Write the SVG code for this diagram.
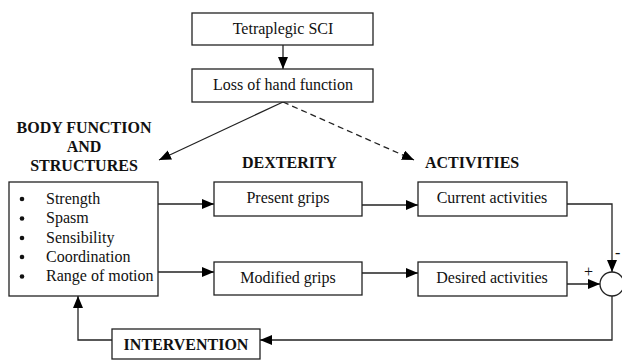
<svg xmlns="http://www.w3.org/2000/svg" width="622" height="360" viewBox="0 0 622 360">
<style>
.box{fill:#fff;stroke:#222;stroke-width:1.3}
.t{font-family:'Liberation Serif','Times New Roman',Times,'DejaVu Serif',serif;font-size:16px;fill:#111}
.b{font-family:'Liberation Serif','Times New Roman',Times,'DejaVu Serif',serif;font-size:16px;font-weight:bold;fill:#111}
.c{text-anchor:middle}
.ln{fill:none;stroke:#222;stroke-width:1.3}
</style>
<defs>
<marker id="ah" viewBox="0 0 12 10" refX="12" refY="5" markerWidth="12" markerHeight="10" markerUnits="userSpaceOnUse" orient="auto">
<path d="M0,0 L12,5 L0,10 Z" fill="#000"/>
</marker>
</defs>
<rect width="622" height="360" fill="#fff"/>
<g id="connectors">
<line class="ln" x1="283" y1="45" x2="283" y2="69" marker-end="url(#ah)"/>
<line class="ln" x1="283" y1="102" x2="159" y2="160" marker-end="url(#ah)"/>
<line class="ln" x1="283" y1="102" x2="414" y2="160" stroke-dasharray="6,4" marker-end="url(#ah)"/>
<line class="ln" x1="158" y1="204" x2="214" y2="204" marker-end="url(#ah)"/>
<line class="ln" x1="158" y1="272" x2="214" y2="272" marker-end="url(#ah)"/>
<line class="ln" x1="362" y1="205" x2="418" y2="205" marker-end="url(#ah)"/>
<line class="ln" x1="362" y1="273" x2="418" y2="273" marker-end="url(#ah)"/>
<polyline class="ln" points="567,204 612,204 612,272" marker-end="url(#ah)"/>
<line class="ln" x1="567" y1="284" x2="600" y2="284" marker-end="url(#ah)"/>
<polyline class="ln" points="612,296 612,340 260,340" marker-end="url(#ah)"/>
<polyline class="ln" points="112,340 78,340 78,296" marker-end="url(#ah)"/>
<text class="t" x="615" y="258" font-size="13">-</text>
<text class="t" x="584" y="277" font-size="13">+</text>
</g>
<g id="sum">
<circle class="box" cx="612" cy="284" r="12"/>
</g>
<g id="tetraplegic">
<rect class="box" x="192" y="13" width="181" height="32"/>
<text class="t c" x="283" y="34">Tetraplegic SCI</text>
</g>
<g id="loss">
<rect class="box" x="192" y="69" width="181" height="33"/>
<text class="t c" x="283" y="90">Loss of hand function</text>
</g>
<g id="body-label">
<text class="b c" x="84" y="133">BODY FUNCTION</text>
<text class="b c" x="84" y="152">AND</text>
<text class="b c" x="84" y="171">STRUCTURES</text>
</g>
<g id="dexterity-label">
<text class="b" x="242" y="168">DEXTERITY</text>
</g>
<g id="activities-label">
<text class="b" x="425" y="168">ACTIVITIES</text>
</g>
<g id="body">
<rect class="box" x="9" y="182" width="149" height="114"/>
<g fill="#111">
<circle cx="22" cy="199" r="2.3"/>
<circle cx="22" cy="218.5" r="2.3"/>
<circle cx="22" cy="238" r="2.3"/>
<circle cx="22" cy="257" r="2.3"/>
<circle cx="22" cy="276.5" r="2.3"/>
</g>
<text class="t" x="46" y="204">Strength</text>
<text class="t" x="46" y="223">Spasm</text>
<text class="t" x="46" y="242.5">Sensibility</text>
<text class="t" x="46" y="261.5">Coordination</text>
<text class="t" x="46" y="281">Range of motion</text>
</g>
<g id="present">
<rect class="box" x="214" y="182" width="148" height="34"/>
<text class="t c" x="288" y="203">Present grips</text>
</g>
<g id="modified">
<rect class="box" x="214" y="262" width="148" height="33"/>
<text class="t c" x="288" y="283">Modified grips</text>
</g>
<g id="current">
<rect class="box" x="418" y="182" width="149" height="34"/>
<text class="t c" x="492" y="203">Current activities</text>
</g>
<g id="desired">
<rect class="box" x="418" y="262" width="149" height="34"/>
<text class="t c" x="492" y="283">Desired activities</text>
</g>
<g id="intervention">
<rect class="box" x="112" y="329" width="148" height="30"/>
<text class="b c" x="186" y="350">INTERVENTION</text>
</g>
</svg>
